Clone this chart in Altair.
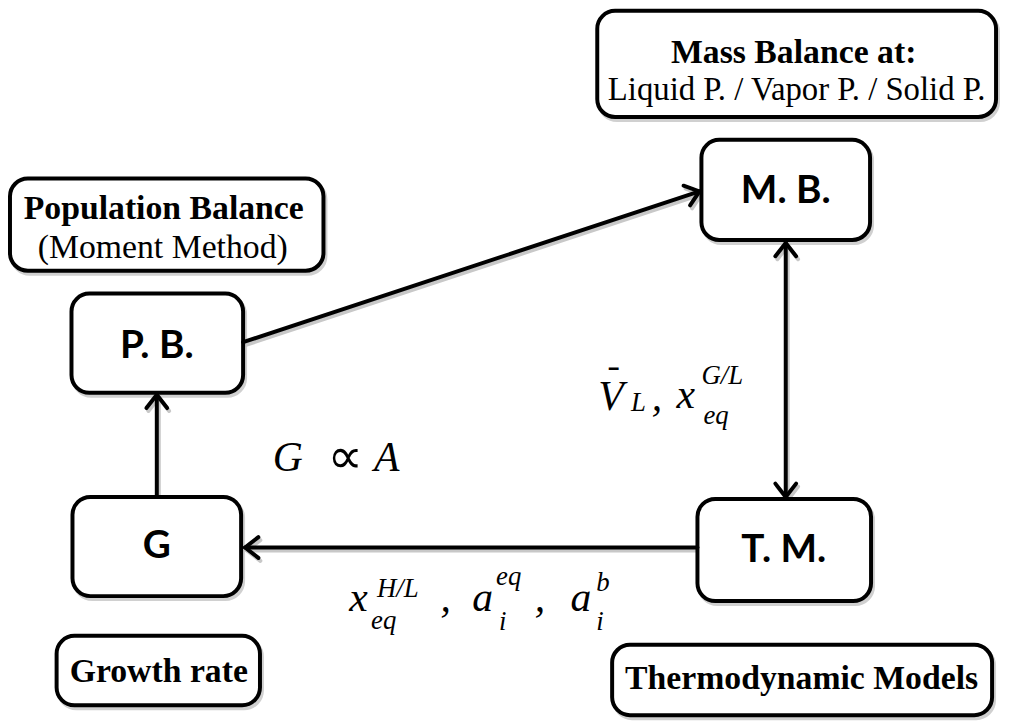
import math
import altair as alt
import pandas as pd

# ---------------- diagram data (reference pixel coordinates) ----------------
box_id = ["mb_note", "mb", "pb_note", "pb", "g", "tm", "g_note", "tm_note"]
box_x0 = [602, 707, 10, 72, 73, 703, 57, 617]
box_x1 = [1004, 877, 326, 245, 243, 878, 262, 1000]
box_y0 = [8, 138, 177, 293, 498, 500, 638, 647]
box_y1 = [115, 239, 270, 393, 598, 603, 708, 718]

node_text = ["M. B.", "P. B.", "G", "T. M."]
node_x = [792, 158, 158, 790]
node_y = [190, 346, 548, 552]

note_bold_text = ["Mass Balance at:", "Population Balance", "Growth rate", "Thermodynamic Models"]
note_bold_x = [800, 165, 160, 808]
note_bold_y = [51, 208, 675, 682]

note_reg_text = ["Liquid P. / Vapor P. / Solid P.", "(Moment Method)"]
note_reg_x = [803, 164]
note_reg_y = [88, 247]
note_reg_size = [33, 34]

# connectors: start, end, heads at end / start
conn_x0 = [245, 158, 703, 792]
conn_y0 = [342, 498, 549, 242]
conn_x1 = [705, 158, 247, 792]
conn_y1 = [190, 395, 549, 498]
conn_head_start = [False, False, False, True]
conn_head_end = [True, True, True, True]

# math labels: big italic symbols (left aligned, alphabetic baseline)
math_big_text = ["G", "A", "x", ",", "a", ",", "a", "V", ",", "x"]
math_big_x = [275, 377, 352, 444, 476, 539, 575, 603, 657, 682]
math_big_y = [472, 472, 613, 613, 613, 613, 613, 410, 410, 408]

math_small_text = ["H/L", "eq", "eq", "i", "b", "i", "L", "G/L", "eq"]
math_small_x = [380, 374, 500, 503, 601, 601, 636, 707, 709]
math_small_y = [599, 631, 587, 632, 593, 632, 411, 384, 424]

math_up_text = ["\u221d", "\u00af"]
math_up_x = [330, 610]
math_up_y = [474, 393]
math_up_size = [50, 34]

# ---------------- build tables ----------------
boxes = pd.DataFrame({"id": box_id, "x0": box_x0, "x1": box_x1, "y0": box_y0, "y1": box_y1})
shadow = boxes.copy()
for c in ["x0", "x1"]:
    shadow[c] = shadow[c] + 2
for c in ["y0", "y1"]:
    shadow[c] = shadow[c] + 3

rows = []
HEAD = 17
ANG = math.radians(38)


def head(seg, tx, ty, fx, fy):
    dx, dy = fx - tx, fy - ty
    L = math.hypot(dx, dy)
    ux, uy = dx / L, dy / L
    pts = []
    for s in (1, -1):
        ca, sa = math.cos(s * ANG), math.sin(s * ANG)
        pts.append((tx + HEAD * (ux * ca - uy * sa), ty + HEAD * (ux * sa + uy * ca)))
    return [(seg, 0, pts[0][0], pts[0][1]), (seg, 1, tx, ty), (seg, 2, pts[1][0], pts[1][1])]


for i in range(len(conn_x0)):
    rows.append((f"c{i}", 0, conn_x0[i], conn_y0[i]))
    rows.append((f"c{i}", 1, conn_x1[i], conn_y1[i]))
    if conn_head_end[i]:
        rows += head(f"h{i}e", conn_x1[i], conn_y1[i], conn_x0[i], conn_y0[i])
    if conn_head_start[i]:
        rows += head(f"h{i}s", conn_x0[i], conn_y0[i], conn_x1[i], conn_y1[i])
lines = pd.DataFrame(rows, columns=["seg", "ord", "x", "y"])
lines_sh = lines.copy()
lines_sh["x"] = lines_sh["x"] + 2
lines_sh["y"] = lines_sh["y"] + 3

nodes = pd.DataFrame({"t": node_text, "x": node_x, "y": node_y})
nb = pd.DataFrame({"t": note_bold_text, "x": note_bold_x, "y": note_bold_y})
nr = pd.DataFrame({"t": note_reg_text, "x": note_reg_x, "y": note_reg_y, "s": note_reg_size})
mbig = pd.DataFrame({"t": math_big_text, "x": math_big_x, "y": math_big_y})
msm = pd.DataFrame({"t": math_small_text, "x": math_small_x, "y": math_small_y})
mup = pd.DataFrame({"t": math_up_text, "x": math_up_x, "y": math_up_y, "s": math_up_size})

XS = alt.Scale(domain=[8, 1010], nice=False, zero=False)
YS = alt.Scale(domain=[8, 722], nice=False, zero=False, reverse=True)


def X(f="x"):
    return alt.X(f"{f}:Q", scale=XS, axis=None)


def Y(f="y"):
    return alt.Y(f"{f}:Q", scale=YS, axis=None)


rect_sh = alt.Chart(shadow).mark_rect(cornerRadius=18, fill="#d0d0d0", stroke="#d0d0d0", strokeWidth=4).encode(
    x=X("x0"), x2="x1:Q", y=Y("y0"), y2="y1:Q")
rect = alt.Chart(boxes).mark_rect(cornerRadius=18, fill="white", stroke="black", strokeWidth=4).encode(
    x=X("x0"), x2="x1:Q", y=Y("y0"), y2="y1:Q")

line_sh = alt.Chart(lines_sh).mark_line(color="#c8c8c8", strokeWidth=4, strokeCap="round", strokeJoin="miter").encode(
    x=X(), y=Y(), detail="seg:N", order="ord:Q")
line = alt.Chart(lines).mark_line(color="black", strokeWidth=4, strokeCap="round", strokeJoin="miter").encode(
    x=X(), y=Y(), detail="seg:N", order="ord:Q")

t_nodes = alt.Chart(nodes).mark_text(font="Lato", fontWeight="bold", fontSize=39, baseline="middle",
                                     align="center", color="black").encode(x=X(), y=Y(), text="t:N")
t_nb = alt.Chart(nb).mark_text(font="Liberation Serif", fontWeight="bold", fontSize=34, baseline="middle",
                               align="center", color="black").encode(x=X(), y=Y(), text="t:N")
t_nr = alt.Chart(nr).mark_text(font="Liberation Serif", baseline="middle",
                               align="center", color="black").encode(
    x=X(), y=Y(), text="t:N", size=alt.Size("s:Q", scale=None, legend=None))
t_big = alt.Chart(mbig).mark_text(font="Liberation Serif", fontStyle="italic", fontSize=42, baseline="alphabetic",
                                  align="left", color="black").encode(x=X(), y=Y(), text="t:N")
t_small = alt.Chart(msm).mark_text(font="Liberation Serif", fontStyle="italic", fontSize=27, baseline="alphabetic",
                                   align="left", color="black").encode(x=X(), y=Y(), text="t:N")
t_up = alt.Chart(mup).mark_text(font="DejaVu Sans", fontWeight="normal", baseline="alphabetic",
                                align="left", color="black").encode(
    x=X(), y=Y(), text="t:N", size=alt.Size("s:Q", scale=None, legend=None))

chart = alt.layer(rect_sh, line_sh, rect, line, t_nodes, t_nb, t_nr, t_big, t_small, t_up).properties(
    width=1002, height=714, padding=0, background="white",
    autosize=alt.AutoSizeParams(type="none")
).configure_view(stroke=None)

chart.save("out.html", embed_options={"renderer": "svg", "actions": False})
